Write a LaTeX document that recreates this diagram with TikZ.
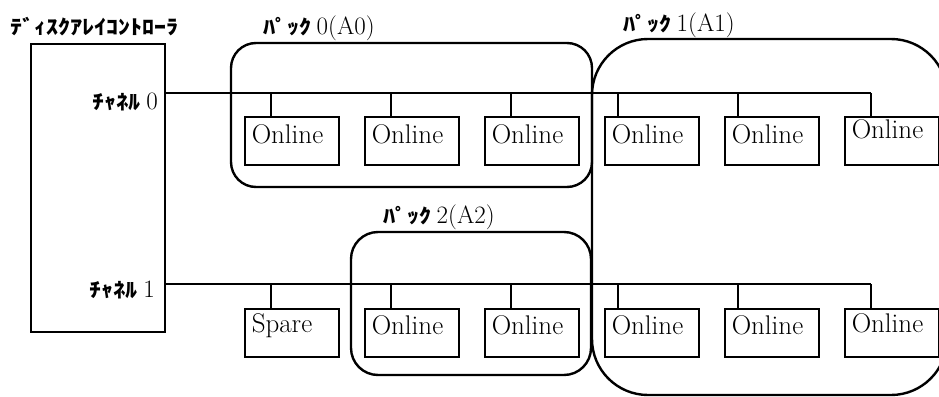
\documentclass[tikz,border=0pt]{standalone}
\usepackage{fontspec}
\newfontfamily\jp[FakeStretch=1.2]{Noto Sans CJK JP}
\newcommand\jpt{\jp\bfseries\fontsize{20}{24}\selectfont}
\newcommand\srf{\normalfont\rmfamily\mdseries\fontsize{25}{29}\selectfont}
\newcommand\devf{\normalfont\rmfamily\mdseries\fontsize{27}{31}\selectfont}
\begin{document}
\begin{tikzpicture}[x=1pt,y=-1pt,
  wire/.style={line width=1.5pt},
  dev/.style 2 args={draw, line width=1.5pt, anchor=north west, minimum width=94pt,
    minimum height=48pt, inner xsep=7pt, inner ysep=0pt, text width=80pt, align=left,
    text height=#1, text depth=#2, font=\devf},
  pack/.style={draw, line width=2.4pt, inner sep=0pt},
  lbl/.style={inner sep=0pt}]
\useasboundingbox (0,0) rectangle (939,396);
\clip (0,0) rectangle (939,396);
% controller
\node[draw, line width=1.5pt, minimum width=134pt, minimum height=288pt, inner sep=0pt] (ctrl) at (98,188) {};
\node[lbl, anchor=base west] (title) at (10,35) {\jpt ﾃﾞｨｽｸｱﾚｲｺﾝﾄﾛｰﾗ};
\node[lbl, anchor=base east] (ch0l) at (158,109) {\jpt ﾁｬﾈﾙ \srf 0};
\node[lbl, anchor=base east] (ch1l) at (155,297) {\jpt ﾁｬﾈﾙ \srf 1};
% packs
\node[pack, rounded corners=25pt, minimum width=361pt, minimum height=144pt] (p0) at (411.5,115) {};
\node[pack, rounded corners=56pt, minimum width=355pt, minimum height=356pt] (p1) at (769.5,217) {};
\node[pack, rounded corners=27pt, minimum width=240pt, minimum height=143pt] (p2) at (471,303.5) {};
\node[lbl, anchor=base west] (p0l) at (263,35) {\jpt ﾊﾟｯｸ \srf 0(A0)};
\node[lbl, anchor=base west] (p1l) at (623,32) {\jpt ﾊﾟｯｸ \srf 1(A1)};
\node[lbl, anchor=base west] (p2l) at (383,223) {\jpt ﾊﾟｯｸ \srf 2(A2)};
% devices row 0
\node[dev={27pt}{21pt}] (a1) at (244,116) {Online};
\node[dev={27pt}{21pt}] (a2) at (364,116) {Online};
\node[dev={27pt}{21pt}] (a3) at (484,116) {Online};
\node[dev={27pt}{21pt}] (a4) at (604,116) {Online};
\node[dev={27pt}{21pt}] (a5) at (724,116) {Online};
\node[dev={22pt}{26pt}, inner xsep=5pt] (a6) at (844,116) {Online};
% devices row 1
\node[dev={24pt}{24pt}] (b1) at (244,308) {Spare};
\node[dev={26pt}{22pt}] (b2) at (364,308) {Online};
\node[dev={26pt}{22pt}] (b3) at (484,308) {Online};
\node[dev={26pt}{22pt}] (b4) at (604,308) {Online};
\node[dev={26pt}{22pt}] (b5) at (724,308) {Online};
\node[dev={24pt}{24pt}, inner xsep=6pt] (b6) at (844,308) {Online};
% channel coordinates
\coordinate (c0) at (165,93);
\coordinate (c1) at (165,284);
% drop points
\foreach \n/\o in {1/27,2/27,3/27,4/14,5/14,6/27}{
  \coordinate (da\n) at ([xshift=\o pt]a\n.north west);
  \coordinate (db\n) at ([xshift=\o pt]b\n.north west);
}
\draw[wire] (c0) -- (da6 |- c0);
\draw[wire] (c1) -- (db6 |- c1);
\foreach \n in {1,...,6}{
  \draw[wire] (da\n) -- (da\n |- c0);
  \draw[wire] (db\n) -- (db\n |- c1);
}
\end{tikzpicture}
\end{document}
